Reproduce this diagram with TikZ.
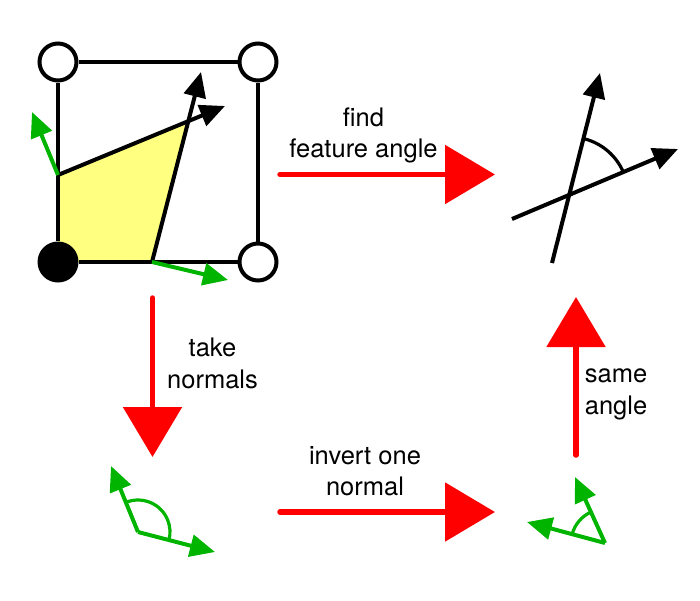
\documentclass[tikz,border=0pt]{standalone}
\usepackage{fontspec}
\setmainfont{TeX Gyre Heros}
\usetikzlibrary{arrows.meta}
\definecolor{ngreen}{RGB}{0,180,0}
\definecolor{pyellow}{RGB}{255,255,128}
\begin{document}
\begin{tikzpicture}[x=1pt,y=-1pt,
  vert/.style={circle,draw=black,line width=4pt,fill=white,minimum size=37pt,inner sep=0pt},
  vertfull/.style={circle,fill=black,minimum size=41pt,inner sep=0pt},
  edge/.style={draw=black,line width=4pt},
  blk/.style={draw=black,line width=4pt,-{Triangle[length=25pt,width=22pt]}},
  grn/.style={draw=ngreen,line width=4pt,-{Triangle[length=25pt,width=22pt]}},
  blkarc/.style={draw=black,line width=3.2pt},
  grnarc/.style={draw=ngreen,line width=3.2pt},
  redarrow/.style={draw=red,line width=5.5pt,line cap=round,-{Triangle[length=50pt,width=58pt]}},
  lbl/.style={align=center,font=\fontsize{25.5}{31.5}\selectfont,inner sep=0pt,anchor=base}]
\useasboundingbox (0,0) rectangle (700,600);

% cell
\coordinate (p0) at (58,262);
\coordinate (pA) at (58,175);
\coordinate (pM) at (187,123);
\coordinate (pB) at (152,262);
\fill[pyellow] (p0) -- (pA) -- (pM) -- (pB) -- cycle;

\node[vert] (c1) at (58,62) {};
\node[vert] (c2) at (258,62) {};
\node[vertfull] (c3) at (58,262) {};
\node[vert] (c4) at (258,262) {};
\draw[edge] (c1) -- (c2) -- (c4) -- (c3) -- (c1);

\coordinate (tA) at (225,106);
\coordinate (tB) at (201,72);
\draw[blk] (pA) -- (tA);
\draw[blk] (pB) -- (tB);

\coordinate (nA) at (32,112);
\coordinate (nB) at (228,280);
\draw[grn] (pA) -- (nA);
\draw[grn] (pB) -- (nB);

% feature angle
\coordinate (fx) at (570,195);
\coordinate (f1s) at (552,263);
\coordinate (f1e) at (600,73);
\coordinate (f2s) at (512,219);
\coordinate (f2e) at (678,149);
\draw[blk] (f1s) -- (f1e);
\draw[blk] (f2s) -- (f2e);
\draw[blkarc] (fx) ++(-22.9:58) arc[start angle=-22.9,end angle=-75.9,radius=58];

% normals
\coordinate (gv) at (138,532);
\coordinate (g1) at (111,466);
\coordinate (g2) at (215,552);
\draw[grnarc] (gv) ++(-112.2:32) arc[start angle=-112.2,end angle=14.6,radius=32];
\draw[grn] (gv) -- (g1);
\draw[grn] (gv) -- (g2);

% inverted
\coordinate (hv) at (605,543);
\coordinate (h1) at (575,477);
\coordinate (h2) at (527,522);
\draw[grnarc] (hv) ++(-164.9:34) arc[start angle=-164.9,end angle=-114.4,radius=34];
\draw[grn] (hv) -- (h1);
\draw[grn] (hv) -- (h2);

% red arrows
\coordinate (r1s) at (280,174.5);
\coordinate (r1e) at (495,174.5);
\coordinate (r2s) at (152.5,298);
\coordinate (r2e) at (152.5,457);
\coordinate (r3s) at (280,512);
\coordinate (r3e) at (495,512);
\coordinate (r4s) at (576,455);
\coordinate (r4e) at (576,297);
\draw[redarrow] (r1s) -- (r1e);
\draw[redarrow] (r2s) -- (r2e);
\draw[redarrow] (r3s) -- (r3e);
\draw[redarrow] (r4s) -- (r4e);

% labels (anchor = baseline of last line)
\node[lbl] (l1) at (363.5,157.5) {find\\feature angle};
\node[lbl] (l2) at (212.5,388) {take\\normals};
\node[lbl] (l3) at (365,495.5) {invert one\\normal};
\node[lbl] (l4) at (616,414) {same\\angle};
\end{tikzpicture}
\end{document}
